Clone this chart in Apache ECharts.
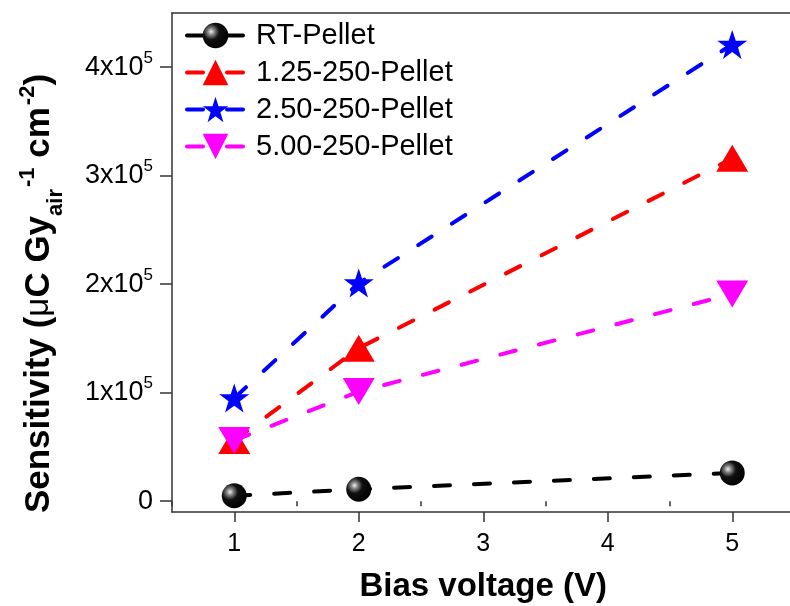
<!DOCTYPE html>
<html><head><meta charset="utf-8">
<script src="https://cdn.jsdelivr.net/npm/echarts@6/dist/echarts.min.js"></script>
<style>html,body{margin:0;padding:0;background:#fff}#c{width:790px;height:606px}</style>
</head><body><div id="c"></div>
<script>
const voltages = [1, 2, 5];
const seriesNames = ['RT-Pellet', '1.25-250-Pellet', '2.50-250-Pellet', '5.00-250-Pellet'];
const rtPellet = [5000, 11000, 26000];
const pellet125 = [56000, 141000, 316000];
const pellet250 = [95000, 201000, 421000];
const pellet500 = [56000, 101000, 191000];
const xTicks = [1, 2, 3, 4, 5];
const xMinorTicks = [0.5, 1.5, 2.5, 3.5, 4.5];
const yTicks = [0, 100000, 200000, 300000, 400000];
const yMinorTicks = [50000, 150000, 250000, 350000, 450000];

const FONT = "'Liberation Sans', Arial, sans-serif";
const chart = echarts.init(document.getElementById('c'));
const pts = arr => voltages.map((v, i) => [v, arr[i]]);
const lineBase = { width: 4, type: [16, 24], cap: 'round' };
const star = 'path://M50,0 L61.8,35.1 L100,35.1 L69.1,57.8 L80.9,95.1 L50,72.4 L19.1,95.1 L30.9,57.8 L0,35.1 L38.2,35.1 Z';
const downTri = 'path://M0,0 L32,0 L16,27 Z';
const sphere = { type: 'radial', x: 0.33, y: 0.35, r: 0.7,
  colorStops: [{ offset: 0, color: '#f0f0f0' }, { offset: 0.18, color: '#888' }, { offset: 0.45, color: '#111' }, { offset: 1, color: '#000' }] };

const xMin = 0.5, xMax = 5.5, yMin = -10000, yMax = 450000;
const axisCol = '#333';

chart.setOption({
  animation: false,
  textStyle: { fontFamily: FONT },
  grid: { left: 172, top: 13, width: 622.5, height: 499, outerBoundsMode: 'none', containLabel: false },
  legend: {
    orient: 'vertical', left: 180, top: 16, itemWidth: 57, itemHeight: 32, itemGap: 8,
    data: seriesNames,
    lineStyle: { width: 4 },
    textStyle: { fontSize: 29, color: '#000', fontFamily: FONT, padding: [0, 0, 0, 7] }
  },
  xAxis: [
    { type: 'value', min: xMin, max: xMax, position: 'bottom',
      name: 'Bias voltage (V)', nameLocation: 'middle', nameGap: 58,
      nameTextStyle: { fontSize: 33, fontWeight: 'bold', color: '#000', fontFamily: FONT },
      axisLine: { show: true, onZero: false, lineStyle: { color: axisCol, width: 1.5 } },
      axisTick: { show: true, length: 10, customValues: xTicks, lineStyle: { color: axisCol, width: 1.5 } },
      axisLabel: { customValues: xTicks, fontSize: 25, color: '#000', margin: 20, fontFamily: FONT },
      splitLine: { show: false } },
    { type: 'value', min: xMin, max: xMax, position: 'bottom',
      axisLine: { show: false }, axisLabel: { show: false }, splitLine: { show: false },
      axisTick: { show: true, length: 5, customValues: xMinorTicks, lineStyle: { color: axisCol, width: 1.5 } } },
    { type: 'value', min: xMin, max: xMax, position: 'top',
      axisLine: { show: true, onZero: false, lineStyle: { color: axisCol, width: 1.5 } },
      axisTick: { show: false }, axisLabel: { show: false }, splitLine: { show: false } }
  ],
  yAxis: [
    { type: 'value', min: yMin, max: yMax,
      name: '{b|Sensitivity (}{mu|μ}{b|C Gy}{sub|air}{sup|-1}{b| cm}{sup|-2}{b|)}',
      nameLocation: 'middle', nameGap: 105,
      nameTextStyle: { color: '#000', padding: [0, 62, 0, 0],
        rich: {
          b: { fontSize: 35, fontWeight: 'bold', lineHeight: 56, color: '#000', fontFamily: FONT },
          mu: { fontSize: 33, fontWeight: 'normal', lineHeight: 56, color: '#000', fontFamily: FONT },
          sub: { fontSize: 22, fontWeight: 'bold', lineHeight: 22, verticalAlign: 'bottom', color: '#000', fontFamily: FONT },
          sup: { fontSize: 22, fontWeight: 'bold', lineHeight: 22, verticalAlign: 'top', padding: [6, 0, 0, 2], color: '#000', fontFamily: FONT }
        } },
      axisLine: { show: true, onZero: false, lineStyle: { color: axisCol, width: 1.5 } },
      axisTick: { show: true, length: 12, customValues: yTicks, lineStyle: { color: axisCol, width: 1.5 } },
      axisLabel: { customValues: yTicks, margin: 19, color: '#000',
        formatter: v => v === 0 ? '{a|0}' : '{a|' + (v / 100000) + 'x10}{s|5}',
        rich: {
          a: { fontSize: 27, lineHeight: 35, color: '#000', fontFamily: FONT },
          s: { fontSize: 17, lineHeight: 17, verticalAlign: 'top', color: '#000', fontFamily: FONT }
        } },
      splitLine: { show: false } },
    { type: 'value', min: yMin, max: yMax,
      axisLine: { show: false }, axisLabel: { show: false }, splitLine: { show: false },
      axisTick: { show: true, length: 6, customValues: yMinorTicks, lineStyle: { color: axisCol, width: 1.5 } } }
  ],
  series: [
    { name: seriesNames[0], type: 'line', data: pts(rtPellet), symbol: 'circle', symbolSize: 25,
      lineStyle: Object.assign({ color: '#000' }, lineBase), itemStyle: { color: sphere } },
    { name: seriesNames[1], type: 'line', data: pts(pellet125), symbol: 'triangle', symbolSize: [32, 27],
      lineStyle: Object.assign({ color: '#ff0000' }, lineBase), itemStyle: { color: '#ff0000' } },
    { name: seriesNames[2], type: 'line', data: pts(pellet250), symbol: star, symbolSize: [30, 29],
      lineStyle: Object.assign({ color: '#0000ff' }, lineBase), itemStyle: { color: '#0000ff' } },
    { name: seriesNames[3], type: 'line', data: pts(pellet500), symbol: downTri, symbolSize: [32, 27],
      lineStyle: Object.assign({ color: '#ff00ff' }, lineBase), itemStyle: { color: '#ff00ff' } }
  ]
});
</script>
</body></html>
